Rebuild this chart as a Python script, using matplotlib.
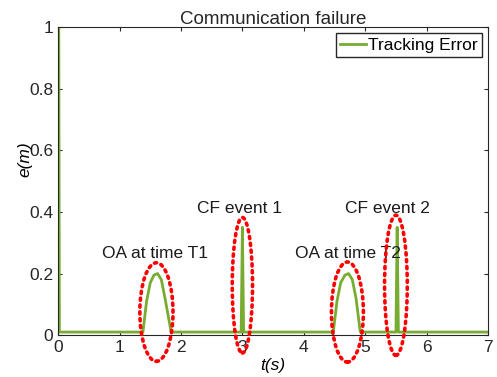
import matplotlib.pyplot as plt
from matplotlib.patches import Ellipse

plt.rcParams["font.family"] = ["Liberation Sans", "DejaVu Sans"]

# Tracking error samples (time in s, error in m)
t = [0, 0.01, 0.02, 1.38, 1.44, 1.5, 1.56, 1.62, 1.68, 1.74, 1.84,
     2.98, 3.0, 3.02, 4.48, 4.54, 4.6, 4.67, 4.73, 4.79, 4.85, 4.92,
     5.5, 5.52, 5.54, 7.0]
e = [1.0, 1.0, 0.01, 0.01, 0.11, 0.17, 0.195, 0.2, 0.18, 0.12, 0.01,
     0.01, 0.35, 0.01, 0.01, 0.11, 0.17, 0.195, 0.2, 0.18, 0.12, 0.01,
     0.01, 0.35, 0.01, 0.01]

# annotation ellipses: centre x, centre y, width, height
ell_x = [1.6, 3.0, 4.71, 5.5]
ell_y = [0.075, 0.162, 0.075, 0.162]
ell_w = [0.54, 0.33, 0.52, 0.37]
ell_h = [0.32, 0.44, 0.325, 0.455]

labels = ["OA at time T1", "CF event 1", "OA at time T2", "CF event 2"]
label_x = [1.58, 2.96, 4.72, 5.36]
label_y = [0.266, 0.41, 0.266, 0.41]

fig = plt.figure(figsize=(4.97, 3.77), dpi=100)
ax = fig.add_axes([0.117, 0.111, 0.865, 0.817])

ax.plot(t, e, color="#77AC30", linewidth=2, label="Tracking Error")

for cx, cy, w, h in zip(ell_x, ell_y, ell_w, ell_h):
    p = Ellipse((cx, cy), w, h, fill=False, edgecolor="red",
                linestyle=(0, (0.6, 1.3)), linewidth=2.6,
                clip_on=False, zorder=5)
    p.set_capstyle("round")
    ax.add_patch(p)

for lab, lx, ly in zip(labels, label_x, label_y):
    ax.text(lx, ly, lab, ha="center", va="center", fontsize=12.5,
            color="#1a1a1a")

ax.set_xlim(0, 7)
ax.set_ylim(0, 1)
ax.set_xticks(range(8))
ax.set_yticks([0, 0.2, 0.4, 0.6, 0.8, 1])
ax.set_yticklabels(["0", "0.2", "0.4", "0.6", "0.8", "1"])
ax.tick_params(direction="in", length=3, labelsize=12.5, colors="#262626",
               top=True, right=True)
for s in ax.spines.values():
    s.set_color("#262626")

ax.set_title("Communication failure", fontsize=13.5, pad=2, color="#262626")
ax.set_xlabel("t(s)", fontstyle="italic", fontsize=12.5)
ax.xaxis.set_label_coords(0.5, -0.075)
ax.set_ylabel("e(m)", fontstyle="italic", fontsize=12.5)
ax.yaxis.set_label_coords(-0.06, 0.57)

leg = ax.legend(loc="upper right", fontsize=12.5, handlelength=1.5,
                handletextpad=0.1, borderpad=0.25, borderaxespad=0.35,
                fancybox=False, framealpha=1)
leg.get_frame().set_edgecolor("#262626")

plt.savefig("out.png", dpi=100)
plt.close()
